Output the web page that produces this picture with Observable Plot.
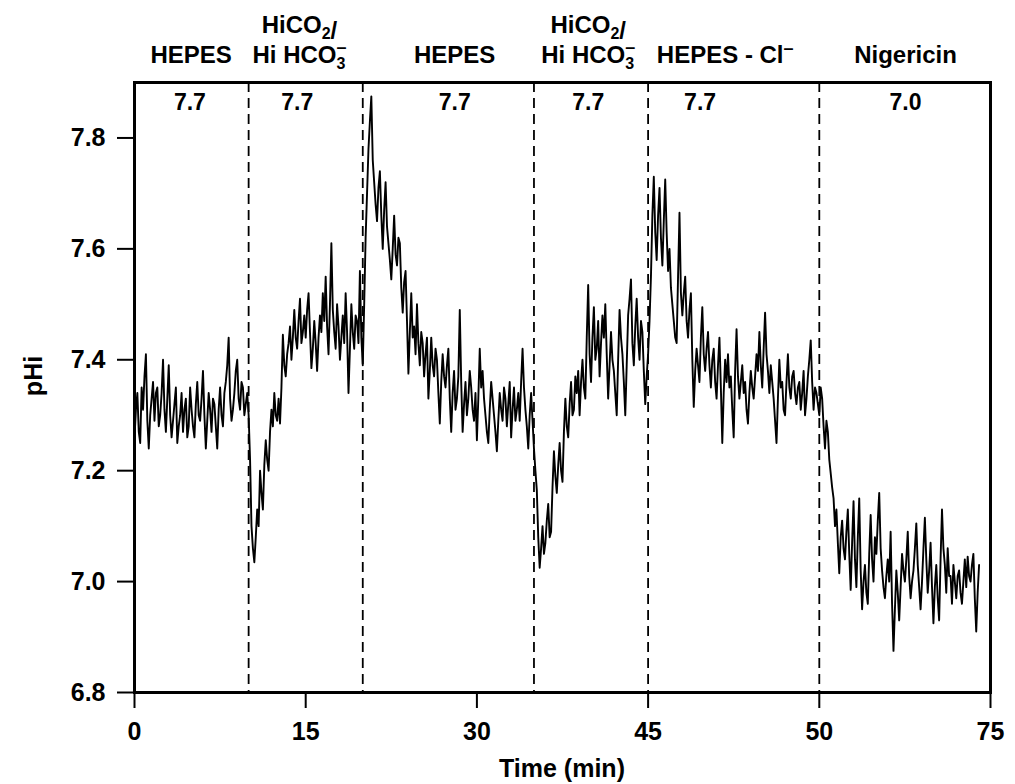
<!DOCTYPE html>
<html><head><meta charset="utf-8">
<script src="https://cdn.jsdelivr.net/npm/d3@7"></script>
<script src="https://cdn.jsdelivr.net/npm/@observablehq/plot@0.6"></script>
<style>
body{margin:0;background:#fff}
svg{font-family:"Liberation Sans",Arial,Helvetica,sans-serif}
</style>
</head><body><div id="chart"></div>
<script>
// sampling interval of the trace (min)
const sampleStep = 0.125;
// intracellular pH, one value every 0.125 min from t = 0 (8 per minute)
const pHi = [
 7.26,7.31,7.34,7.27,7.25,7.35,7.31,7.37,  7.41,7.29,7.24,7.30,7.33,7.36,7.29,7.34,
 7.35,7.28,7.30,7.34,7.40,7.31,7.27,7.33,  7.39,7.30,7.26,7.29,7.32,7.35,7.25,7.28,
 7.30,7.34,7.27,7.31,7.33,7.26,7.28,7.35,  7.31,7.28,7.26,7.32,7.36,7.30,7.29,7.33,
 7.38,7.30,7.24,7.29,7.34,7.31,7.27,7.33,  7.32,7.28,7.24,7.31,7.35,7.30,7.28,7.34,
 7.36,7.39,7.44,7.33,7.29,7.31,7.34,7.38,  7.40,7.33,7.31,7.36,7.35,7.30,7.32,7.34,
 7.30,7.22,7.10,7.06,7.035,7.08,7.13,7.10, 7.20,7.16,7.13,7.21,7.255,7.22,7.20,7.27,
 7.31,7.28,7.34,7.30,7.29,7.33,7.285,7.35, 7.445,7.39,7.37,7.41,7.43,7.46,7.40,7.44,
 7.49,7.44,7.42,7.47,7.51,7.43,7.45,7.48,  7.44,7.49,7.52,7.45,7.385,7.42,7.47,7.43,
 7.38,7.44,7.48,7.45,7.52,7.47,7.55,7.46,  7.41,7.50,7.61,7.49,7.45,7.42,7.50,7.46,
 7.40,7.44,7.48,7.43,7.52,7.45,7.34,7.42,  7.50,7.45,7.42,7.48,7.47,7.43,7.56,7.44,
 7.39,7.50,7.62,7.70,7.78,7.83,7.875,7.76, 7.72,7.68,7.65,7.71,7.74,7.66,7.60,7.67,
 7.72,7.64,7.61,7.58,7.545,7.60,7.66,7.59, 7.57,7.62,7.61,7.53,7.485,7.54,7.56,7.47,
 7.375,7.45,7.52,7.44,7.46,7.41,7.50,7.43, 7.39,7.45,7.43,7.37,7.41,7.44,7.33,7.38,
 7.44,7.39,7.37,7.42,7.40,7.34,7.285,7.36, 7.41,7.37,7.35,7.39,7.42,7.33,7.27,7.34,
 7.38,7.31,7.33,7.37,7.49,7.36,7.27,7.32,  7.36,7.30,7.33,7.38,7.35,7.31,7.29,7.34,
 7.255,7.33,7.42,7.35,7.38,7.33,7.30,7.27, 7.25,7.31,7.36,7.33,7.30,7.27,7.235,7.29,
 7.34,7.31,7.29,7.35,7.33,7.28,7.32,7.36,  7.26,7.31,7.35,7.29,7.31,7.34,7.29,7.36,
 7.42,7.35,7.31,7.28,7.24,7.30,7.34,7.29,
 7.24,7.20,7.165,7.08,7.025,7.06,7.10,7.05, 7.07,7.11,7.14,7.08,7.09,7.17,7.235,7.19,
 7.16,7.21,7.25,7.20,7.18,7.27,7.33,7.28,  7.26,7.32,7.36,7.30,7.31,7.37,7.34,7.38,
 7.30,7.36,7.40,7.35,7.33,7.44,7.535,7.41, 7.36,7.44,7.495,7.40,7.42,7.47,7.37,7.43,
 7.48,7.44,7.50,7.41,7.33,7.39,7.45,7.40,  7.38,7.34,7.30,7.40,7.49,7.44,7.41,7.36,
 7.30,7.39,7.48,7.51,7.545,7.43,7.39,7.46, 7.51,7.44,7.40,7.47,7.45,7.38,7.32,7.37,
 7.41,7.47,7.55,7.66,7.73,7.63,7.58,7.66,  7.71,7.62,7.57,7.65,7.725,7.63,7.56,7.60,
 7.53,7.50,7.47,7.44,7.43,7.55,7.665,7.52, 7.48,7.52,7.55,7.47,7.44,7.49,7.52,7.40,
 7.315,7.38,7.42,7.39,7.36,7.44,7.495,7.41, 7.38,7.42,7.45,7.39,7.35,7.40,7.42,7.36,
 7.33,7.39,7.44,7.35,7.25,7.34,7.40,7.36,  7.41,7.35,7.37,7.31,7.26,7.38,7.455,7.37,
 7.33,7.36,7.39,7.34,7.36,7.31,7.285,7.34, 7.38,7.35,7.33,7.37,7.41,7.38,7.45,7.39,
 7.35,7.42,7.485,7.41,7.38,7.34,7.39,7.36, 7.33,7.29,7.25,7.33,7.40,7.35,7.36,7.31,
 7.30,7.36,7.41,7.35,7.33,7.37,7.38,7.34,  7.32,7.35,7.36,7.31,7.34,7.38,7.30,7.33,
 7.37,7.40,7.435,7.36,7.31,7.35,7.34,7.32,
 7.30,7.35,7.33,7.28,7.24,7.29,7.27,7.22,  7.195,7.17,7.15,7.10,7.13,7.07,7.015,7.08,
 7.11,7.06,7.04,7.09,7.13,7.05,6.985,7.07, 7.145,7.04,6.99,7.08,7.15,7.02,6.95,7.00,
 7.03,6.98,6.96,7.05,7.12,7.04,7.00,7.08,  7.05,7.11,7.16,7.06,7.02,6.99,6.97,7.01,
 7.04,7.00,7.09,6.96,6.875,6.95,7.02,6.98, 6.93,6.99,7.05,7.02,7.00,7.04,7.09,7.01,
 6.97,7.00,7.02,7.06,7.105,7.03,6.99,6.95, 7.00,7.06,7.115,7.04,6.98,7.02,7.07,6.99,
 6.925,6.99,7.03,6.97,6.93,7.04,7.13,7.06, 7.03,6.98,7.06,7.01,7.01,6.96,7.03,7.00,
 6.97,7.01,7.02,6.98,6.96,7.00,7.04,6.99,  7.045,7.01,7.00,7.03,7.05,6.97,6.91,6.98,
 7.03
];
// solution changes (min)
const switchTimes = [10, 20, 35, 45, 60];
// axis ticks and their printed labels
const xTicks = [0, 15, 30, 45, 60, 75];
const xTickLabels = ["0", "15", "30", "45", "50", "75"];
const yTicks = [6.8, 7.0, 7.2, 7.4, 7.6, 7.8];
// perfusion solutions (line 1 / line 2; _x = subscript, ^- = superscript minus)
const solutionLine1 = ["", "HiCO_2/", "", "HiCO_2/", "", ""];
const solutionLine2 = ["HEPES", "Hi HCO_3^-", "HEPES", "Hi HCO_3^-", "HEPES - Cl^-", "Nigericin"];
const solutionX = [5, 14.5, 28.1, 39.8, 51.8, 67.6];
// bath pH of each solution
const bathPH = ["7.7", "7.7", "7.7", "7.7", "7.7", "7.0"];
const bathX = [4.9, 14.3, 28.1, 39.8, 49.6, 67.6];

const FONT = '"Liberation Sans", Arial, Helvetica, sans-serif';
const data = pHi.map((v, i) => ({t: i * sampleStep, pH: v}));

const plot = Plot.plot({
  width: 1015, height: 784,
  marginLeft: 134, marginRight: 25, marginTop: 82, marginBottom: 92,
  style: {fontFamily: FONT, fontSize: "24px", fontWeight: "bold", color: "#000", background: "#fff"},
  x: {domain: [0, 75], label: null},
  y: {domain: [6.8, 7.9], label: null},
  marks: [
    Plot.ruleX(switchTimes, {stroke: "#000", strokeWidth: 1.8, strokeDasharray: "10,6"}),
    Plot.line(data, {x: "t", y: "pH", stroke: "#000", strokeWidth: 1.9, strokeLinejoin: "round"}),
    Plot.frame({stroke: "#000", strokeWidth: 3}),
    Plot.axisX({ticks: xTicks, tickFormat: d => xTickLabels[xTicks.indexOf(d)], tickSize: 16, tickPadding: 14, strokeWidth: 2, fontSize: 25, label: null}),
    Plot.axisY({ticks: yTicks, tickFormat: d3.format(".1f"), tickSize: 17, tickPadding: 12, strokeWidth: 2, fontSize: 25, label: null})
  ]
});
document.getElementById("chart").appendChild(plot);

const svg = d3.select(plot);
const xs = plot.scale("x");
const g = svg.append("g")
  .attr("font-family", FONT).attr("font-weight", "bold").attr("text-anchor", "middle").attr("fill", "#000");

function richText(sel, str) {
  const parts = str.split(/(_\d\^-|_\d|\^-)/).filter(s => s !== "");
  for (const p of parts) {
    if (/^_\d\^-$/.test(p)) {
      sel.append("tspan").attr("font-size", 16).attr("dy", 6).text(p[1]);
      sel.append("tspan").attr("font-size", 18).attr("dx", -9).attr("dy", -16).text("\u2013");
      sel.append("tspan").attr("dy", 10).text("");
    } else if (/^_\d$/.test(p)) {
      sel.append("tspan").attr("font-size", 16).attr("dy", 6).text(p[1]);
      sel.append("tspan").attr("dy", -6).text("");
    } else if (p === "^-") {
      sel.append("tspan").attr("font-size", 18).attr("dy", -9).text("\u2013");
      sel.append("tspan").attr("dy", 9).text("");
    } else {
      sel.append("tspan").text(p);
    }
  }
}

solutionX.forEach((v, i) => {
  const x = xs.apply(v);
  if (solutionLine1[i]) richText(g.append("text").attr("x", x).attr("y", 33).attr("font-size", 24), solutionLine1[i]);
  richText(g.append("text").attr("x", x).attr("y", 63).attr("font-size", 24), solutionLine2[i]);
});
bathX.forEach((v, i) => {
  g.append("text").attr("x", xs.apply(v)).attr("y", 110).attr("font-size", 23).text(bathPH[i]);
});
// axis titles
g.append("text").attr("x", (134 + 990) / 2).attr("y", 777).attr("font-size", 25).text("Time (min)");
g.append("text").attr("transform", "translate(42,376) rotate(-90)").attr("font-size", 25).text("pHi");
</script>
</body></html>
